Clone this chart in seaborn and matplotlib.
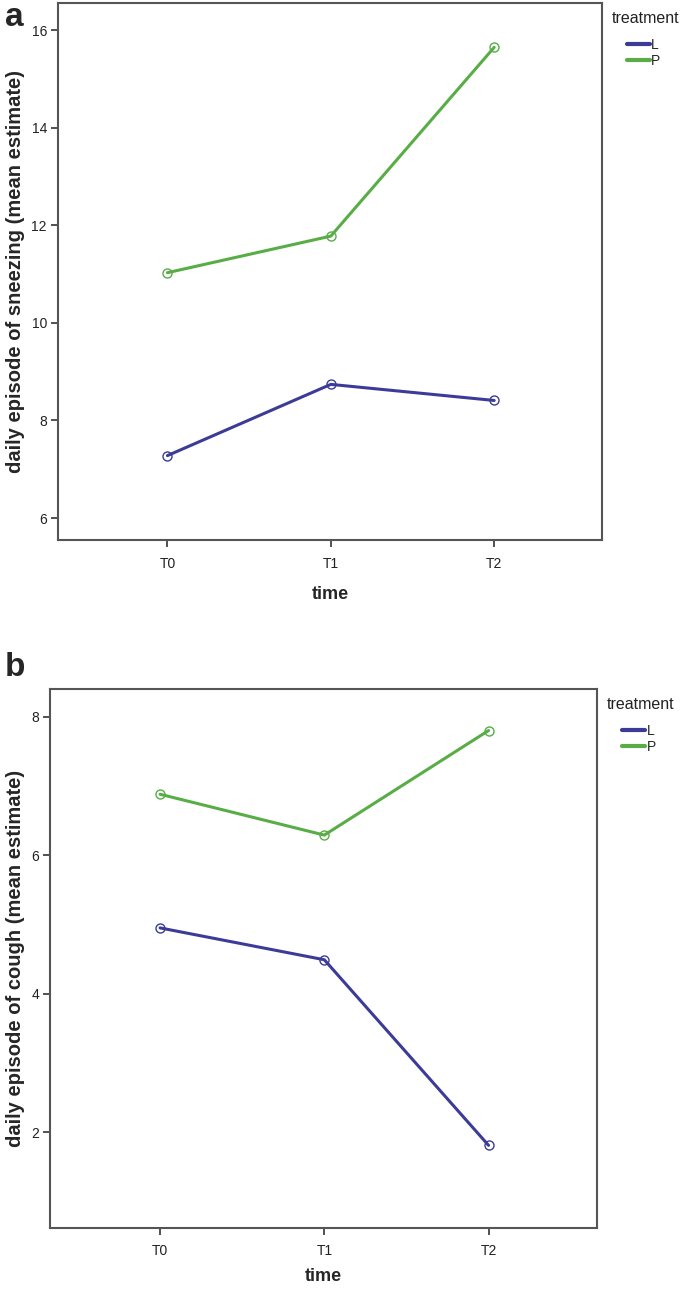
import pandas as pd
import matplotlib
matplotlib.use("Agg")
import matplotlib.pyplot as plt
import seaborn as sns

# values
times = ["T0", "T1", "T2"]
groups = ["L", "P"]
sneeze_L = [7.28, 8.74, 8.41]
sneeze_P = [11.03, 11.78, 15.65]
cough_L = [4.95, 4.49, 1.81]
cough_P = [6.88, 6.29, 7.80]

df_sneeze = pd.DataFrame({
    "time": times * 2,
    "treatment": ["L"] * 3 + ["P"] * 3,
    "value": sneeze_L + sneeze_P,
})
df_cough = pd.DataFrame({
    "time": times * 2,
    "treatment": ["L"] * 3 + ["P"] * 3,
    "value": cough_L + cough_P,
})

sns.set_style("white")
plt.rcParams["font.family"] = ["Liberation Sans", "DejaVu Sans"]

palette = {"L": "#3c3c98", "P": "#58ad46"}

fig = plt.figure(figsize=(6.88, 12.89), dpi=100)
ax_a = fig.add_axes([0.0843, 0.5811, 0.7907, 0.4166])
ax_b = fig.add_axes([0.0727, 0.0475, 0.7950, 0.4180])


def draw(ax, df, ylabel, ylim, yticks, label_x, xpad):
    sns.lineplot(data=df, x="time", y="value", hue="treatment", hue_order=groups,
                 palette=palette, linewidth=2.2, marker="o", markersize=6.5,
                 markerfacecolor="none", markeredgewidth=1.0, ax=ax, legend=False)
    for line, g in zip(ax.lines, groups):
        line.set_markeredgecolor(palette[g])
    ax.set_xlim(-0.67, 2.66)
    ax.set_ylim(*ylim)
    ax.set_yticks(yticks)
    ax.set_yticklabels([str(t) for t in yticks])
    ax.set_xlabel("time", fontsize=13, fontweight="bold", labelpad=xpad)
    ax.set_ylabel(ylabel, fontsize=14.5, fontweight="bold")
    ax.yaxis.set_label_coords(label_x, 0.5)
    ax.tick_params(axis="both", direction="out", length=5, width=1.2,
                   color="#333333", labelsize=10, labelcolor="#222222",
                   left=True, bottom=True, pad=3)
    ax.tick_params(axis="x", pad=7)
    for sp in ax.spines.values():
        sp.set_color("#555555")
        sp.set_linewidth(1.5)
    handles = [plt.Line2D([0], [0], color=palette[g], linewidth=3) for g in groups]
    ax.legend(handles, groups, loc="upper left", bbox_to_anchor=(1.046, 0.935),
              frameon=False, fontsize=10, handlelength=1.65, handletextpad=0.1,
              labelspacing=0.12, borderaxespad=0.0, borderpad=0.0)
    ax.text(1.018, 0.985, "treatment", transform=ax.transAxes, fontsize=11.5,
            ha="left", va="top", color="#222222")


draw(ax_a, df_sneeze, "daily episode of sneezing (mean estimate)",
     (5.55, 16.56), [6, 8, 10, 12, 14, 16], -0.061, 11)
draw(ax_b, df_cough, "daily episode of cough (mean estimate)",
     (0.62, 8.40), [2, 4, 6, 8], -0.046, 7)

fig.text(5 / 688, 1 - 2 / 1289, "a", fontsize=24, fontweight="bold", va="top", ha="left")
fig.text(5 / 688, 1 - 652 / 1289, "b", fontsize=24, fontweight="bold", va="top", ha="left")

fig.savefig("out.png", dpi=100)
